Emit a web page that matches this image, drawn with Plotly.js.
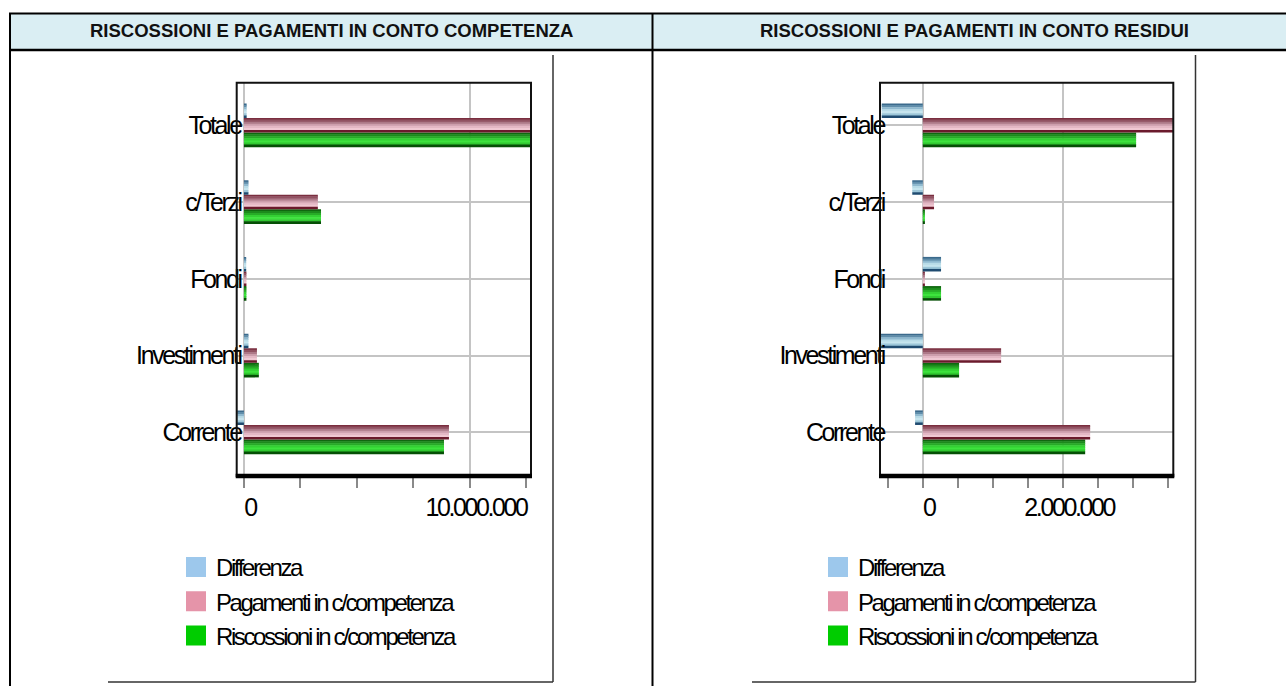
<!DOCTYPE html>
<html>
<head>
<meta charset="utf-8">
<script src="https://cdn.plot.ly/plotly-3.0.1.min.js"></script>
<style>
  html, body { margin: 0; padding: 0; background: #ffffff; }
  #chart { width: 1286px; height: 686px; }
  /* tightly spaced labels, as in the original chart */
  #chart svg text { letter-spacing: -2.4px; }
  #chart svg text.annotation-text { letter-spacing: normal; }
</style>
</head>
<body>
<div id="chart"></div>
<script>
// ---------- DATA ----------
const categories = ['Corrente', 'Investimenti', 'Fondi', 'c/Terzi', 'Totale'];
const seriesNames = ['Differenza', 'Pagamenti in c/competenza', 'Riscossioni in c/competenza'];

// Riscossioni e pagamenti in conto competenza
const compDifferenza   = [-300000, 200000, 100000, 200000, 120000];
const compPagamenti    = [9070000, 575000, 110000, 3270000, 13000000];
const compRiscossioni  = [8850000, 660000, 110000, 3410000, 13000000];

// Riscossioni e pagamenti in conto residui
const resDifferenza    = [-110000, -600000, 260000, -150000, -585000];
const resPagamenti     = [2385000, 1116000, 30000, 160000, 3680000];
const resRiscossioni   = [2314000, 517000, 260000, 30000, 3040000];

const panelTitles = ['RISCOSSIONI E PAGAMENTI IN CONTO COMPETENZA', 'RISCOSSIONI E PAGAMENTI IN CONTO RESIDUI'];
const xTickText = [['0', '10.000.000'], ['0', '2.000.000']];

// ---------- STYLE ----------
const W = 1286, H = 686;
const px = v => v / W;
const py = v => 1 - v / H;
const FONT = "'Liberation Sans', Arial, sans-serif";

const stripes = {
  blue:  ['#3b6a8c', '#5f8daa', '#8fb9cf', '#b8dbe7', '#c6e5ee', '#9cc6d8', '#1f4b70'],
  pink:  ['#7a2e3f', '#915262', '#ad7988', '#cc9eac', '#e4b8c5', '#f0c8d3', '#6b1a2c'],
  green: ['#0f680f', '#1c8a1c', '#27ab27', '#33d033', '#3de33d', '#30c830', '#054f05']
};
const legendColors = ['#9dc8ec', '#e594a9', '#00cc00'];

// bar slots relative to category centre (in category units)
const slots = { green: [-0.285, -0.095], pink: [-0.095, 0.095], blue: [0.095, 0.285] };

function stripedBars(values, colorKey, xa, ya) {
  const cols = stripes[colorKey];
  const [lo, hi] = slots[colorKey];
  const sw = (hi - lo) / cols.length;
  return cols.map((c, i) => ({
    type: 'bar', orientation: 'h',
    y: categories, x: values,
    xaxis: xa, yaxis: ya,
    offset: hi - (i + 1) * sw,
    width: sw + (i === 0 ? 0 : 0.006),
    marker: { color: c, line: { width: 0 } },
    showlegend: false, hoverinfo: 'x+y'
  }));
}

let traces = [];
traces = traces.concat(stripedBars(compRiscossioni, 'green', 'x', 'y'));
traces = traces.concat(stripedBars(compPagamenti, 'pink', 'x', 'y'));
traces = traces.concat(stripedBars(compDifferenza, 'blue', 'x', 'y'));
traces = traces.concat(stripedBars(resRiscossioni, 'green', 'x2', 'y2'));
traces = traces.concat(stripedBars(resPagamenti, 'pink', 'x2', 'y2'));
traces = traces.concat(stripedBars(resDifferenza, 'blue', 'x2', 'y2'));

// legend entries
['legend', 'legend2'].forEach((lg, k) => {
  seriesNames.forEach((name, i) => {
    traces.push({
      type: 'scatter', mode: 'markers',
      x: [null], y: [null],
      xaxis: k === 0 ? 'x' : 'x2', yaxis: k === 0 ? 'y' : 'y2',
      name: name, legend: lg,
      marker: { symbol: 'square', size: 16, color: legendColors[i], line: { color: legendColors[i], width: 4 } },
      hoverinfo: 'skip'
    });
  });
});

const plotL = { x0: 236.7, x1: 531, y0: 82.7, y1: 476 };
const plotR = { x0: 880, x1: 1173.3, y0: 82.7, y1: 476 };

function xAxis(domain, range, dtick, minorDtick, anchor, tickText) {
  return {
    domain: domain, range: range, anchor: anchor,
    tickmode: 'array', tickvals: [0, dtick], ticktext: tickText,
    showgrid: true, gridcolor: '#c4c4c4', gridwidth: 2,
    zeroline: false, showline: false,
    ticks: 'outside', ticklen: 11, tickwidth: 2, tickcolor: '#8a8a8a',
    minor: { tickmode: 'linear', tick0: 0, dtick: minorDtick, ticks: 'outside', ticklen: 11, tickwidth: 2, tickcolor: '#8a8a8a', showgrid: false },
    tickfont: { family: FONT, size: 25, color: '#000000' },
    ticklabelshift: 6, ticklabelstandoff: -2,
    fixedrange: true
  };
}
function yAxis(domain, anchor) {
  return {
    domain: domain, anchor: anchor, type: 'category',
    categoryorder: 'array', categoryarray: categories,
    range: [-0.57, 4.555],
    showgrid: true, gridcolor: '#c4c4c4', gridwidth: 2,
    zeroline: false, showline: false, ticks: '',
    tickfont: { family: FONT, size: 25, color: '#000000' },
    ticklabelstandoff: -5,
    fixedrange: true
  };
}

const line = (x0, y0, x1, y1, w, c) => ({
  type: 'line', xref: 'paper', yref: 'paper',
  x0: px(x0), x1: px(x1), y0: py(y0), y1: py(y1),
  line: { color: c || '#000000', width: w }
});
const frame = p => ([
  { type: 'rect', xref: 'paper', yref: 'paper', x0: px(p.x0), x1: px(p.x1), y0: py(p.y1), y1: py(p.y0), line: { color: '#111111', width: 2 } },
  line(p.x0 - 1, p.y1, p.x1 + 1, p.y1, 4.5, '#000000')
]);

const shapes = [
  { type: 'rect', xref: 'paper', yref: 'paper', x0: px(10), x1: 1, y0: py(50), y1: py(13.5), fillcolor: '#daeef3', line: { width: 0 }, layer: 'below' },
  line(9, 13.5, 1286, 13.5, 2),
  line(9, 50, 1286, 50, 2.5),
  line(10, 13, 10, 686, 2),
  line(652.5, 13, 652.5, 686, 2),
  line(553, 55, 553, 682, 1.5, '#333333'),
  line(108, 682, 553, 682, 1.5, '#333333'),
  line(1195.5, 55, 1195.5, 682, 1.5, '#333333'),
  line(752, 682, 1195.5, 682, 1.5, '#333333')
].concat(frame(plotL), frame(plotR));

const legendBase = {
  xanchor: 'left', yanchor: 'top', bgcolor: 'rgba(0,0,0,0)', borderwidth: 0,
  font: { family: FONT, size: 24, color: '#000000' },
  traceorder: 'normal', tracegroupgap: 0, itemclick: false, itemdoubleclick: false
};

const layout = {
  width: W, height: H,
  margin: { l: 0, r: 0, t: 0, b: 0, pad: 0 },
  paper_bgcolor: '#ffffff', plot_bgcolor: 'rgba(0,0,0,0)',
  separators: ',.',
  barmode: 'overlay',
  showlegend: true,
  xaxis:  xAxis([px(plotL.x0), px(plotL.x1)], [-320000, 12700000], 10000000, 2500000, 'y', xTickText[0]),
  yaxis:  yAxis([py(plotL.y1), py(plotL.y0)], 'x'),
  xaxis2: xAxis([px(plotR.x0), px(plotR.x1)], [-610000, 3570000], 2000000, 500000, 'y2', xTickText[1]),
  yaxis2: yAxis([py(plotR.y1), py(plotR.y0)], 'x2'),
  legend:  Object.assign({ x: px(176), y: py(545) }, legendBase),
  legend2: Object.assign({ x: px(818), y: py(545) }, legendBase),
  shapes: shapes,
  annotations: panelTitles.map((t, i) => ({
    xref: 'paper', yref: 'paper', x: px(i === 0 ? 331 : 974), y: py(31),
    xanchor: 'center', yanchor: 'middle', showarrow: false,
    text: '<b>' + t + '</b>',
    font: { family: FONT, size: 18.5, color: '#111111' }
  }))
};

Plotly.newPlot('chart', traces, layout, { displayModeBar: false, responsive: false });
</script>
</body>
</html>
